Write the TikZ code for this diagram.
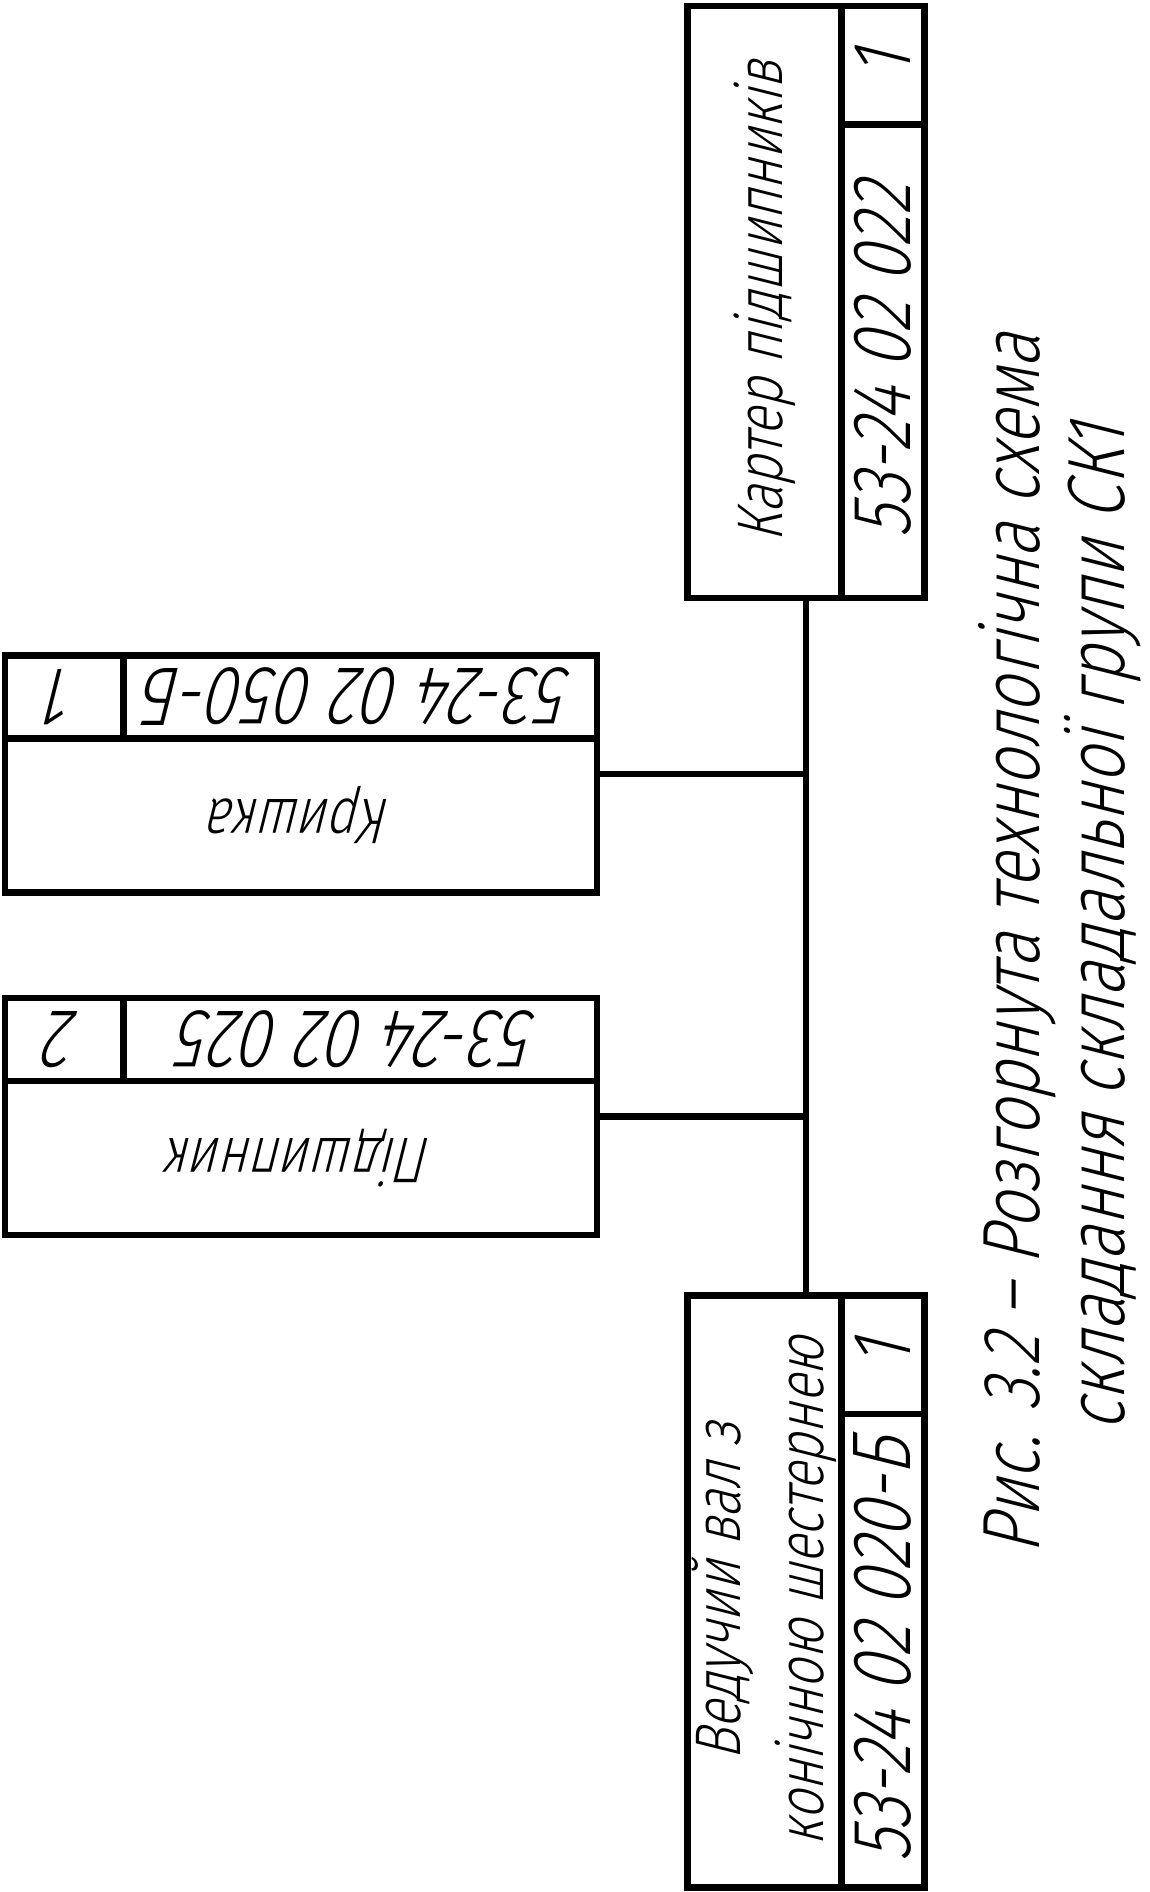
\documentclass[tikz,border=0pt]{standalone}
\usepackage{fontspec}
\newfontfamily\gostfont[FakeSlant=0.25,FakeStretch=0.8]{Fira Sans Light}
\usepackage{tikz}

\begin{document}
\begin{tikzpicture}[
    frame/.style={line width=1.56pt},
    partframe/.style={draw, frame, rectangle, minimum width=5cm, minimum height=2cm, inner sep=0pt, outer sep=0pt},
    link/.style={line width=1.5pt},
    titletext/.style={font={\gostfont\fontsize{15.5}{20}\selectfont}, align=center, inner sep=0pt},
    codetext/.style={font={\gostfont\fontsize{20}{24}\selectfont}, inner sep=0pt},
    captext/.style={font={\gostfont\fontsize{19.5}{24}\selectfont}, inner sep=0pt}]
  \useasboundingbox (0,0) rectangle (9.713,15.98);

  % Function to draw one part box: title row, code cell and quantity cell
  \newcommand{\partbox}[6]{
    \begin{scope}[shift={#2}, rotate=#3, transform shape]
      \node[partframe] (#1) at (0,0) {};
      \draw[frame] (-2.5,-0.3) -- (2.5,-0.3);
      \draw[frame] (1.5,-1) -- (1.5,-0.3);
      \node[titletext] (#1-title) at (0,0.35) {#4};
      \node[codetext] (#1-code) at (-0.5,-0.65) {#5};
      \node[codetext] (#1-qty) at (2,-0.65) {#6};
    \end{scope}}

  % === Parts ===
  \partbox{karter}{(6.807,13.43)}{90}{Картер підшипників}{53-24 02 022}{1}
  \partbox{kryshka}{(2.542,9.443)}{180}{Кришка}{53-24 02 050-Б}{1}
  \partbox{pidshypnyk}{(2.542,6.55)}{180}{Підшипник}{53-24 02 025}{2}
  \partbox{vedval}{(6.807,2.538)}{90}{Ведучий вал з\\конічною шестернею}{53-24 02 020-Б}{1}

  % === Links ===
  \draw[link] (karter.west) -- (vedval.east);
  \draw[link] (kryshka.west) -- (kryshka.west -| karter.west);
  \draw[link] (pidshypnyk.west) -- (pidshypnyk.west -| karter.west);

  % === Caption ===
  \node[captext, rotate=90, anchor=base] (capline1) at (8.78,8.007) {Рис. 3.2 – Розгорнута технологічна схема};
  \node[captext, rotate=90, anchor=base] (capline2) at (9.50,8.14) {складання складальної групи СК1};
\end{tikzpicture}
\end{document}
